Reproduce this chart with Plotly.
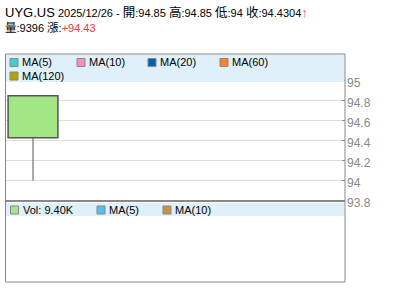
import plotly.graph_objects as go

# ---- data ----
symbol = "UYG.US"
date = "2025/12/26"
open_p = [94.85]
high_p = [94.85]
low_p = [94.0]
close_p = [94.4304]
volume = [9396]
change = 94.43
price_ticks = [93.8, 94.0, 94.2, 94.4, 94.6, 94.8, 95.0]
price_tick_labels = ["93.8", "94", "94.2", "94.4", "94.6", "94.8", "95"]
ma_labels = ["MA(5)", "MA(10)", "MA(20)", "MA(60)", "MA(120)"]
ma_colors = ["#3fcfcf", "#f78fbf", "#0063b1", "#f7832a", "#b0a400"]
vol_ma_labels = ["MA(5)", "MA(10)"]
vol_ma_colors = ["#4fc0ef", "#c8904f"]

W, H = 400, 301
L, R, T, B = 5, 55, 54, 19
PW, PH = W - L - R, H - T - B


def px(xp):
    return (xp - L) / PW


def py(yp):
    return (H - B - yp) / PH


split = py(201)

fig = go.Figure()
xs = list(range(len(open_p)))
# wicks
for i in xs:
    top = max(open_p[i], close_p[i])
    bot = min(open_p[i], close_p[i])
    if high_p[i] > top:
        fig.add_trace(go.Scatter(x=[i, i], y=[top, high_p[i]], mode="lines",
                                 line=dict(color="#555555", width=1),
                                 showlegend=False, hoverinfo="skip"))
    if low_p[i] < bot:
        fig.add_trace(go.Scatter(x=[i, i], y=[low_p[i], bot], mode="lines",
                                 line=dict(color="#555555", width=1),
                                 showlegend=False, hoverinfo="skip"))
# bodies
fig.add_trace(go.Bar(
    x=xs,
    y=[abs(o - c) for o, c in zip(open_p, close_p)],
    base=[min(o, c) for o, c in zip(open_p, close_p)],
    width=0.89,
    marker=dict(color="#a3e686", line=dict(color="#555555", width=1.5)),
    showlegend=False, hoverinfo="skip"))

slot_px = 56
fig.update_layout(
    width=W, height=H,
    margin=dict(l=L, r=R, t=T, b=B, pad=0),
    paper_bgcolor="white", plot_bgcolor="white",
    showlegend=False,
    xaxis=dict(range=[-0.5, -0.5 + PW / slot_px], showgrid=False, zeroline=False,
               showticklabels=False, ticks="", domain=[0, 1], anchor="y"),
    yaxis=dict(domain=[split, 1], range=[93.797, 95.267], side="right",
               tickvals=price_ticks, ticktext=price_tick_labels,
               showgrid=True, gridcolor="#dddddd", gridwidth=1,
               ticks="inside", ticklen=3, tickcolor="#888888",
               tickfont=dict(family="Liberation Sans, Arial", size=12, color="#888888"),
               ticklabelshift=2, ticklabelstandoff=1,
               zeroline=False, showline=False, anchor="x"),
    xaxis2=dict(range=[-0.5, -0.5 + PW / slot_px], showgrid=False, zeroline=False,
                showticklabels=False, ticks="", domain=[0, 1], anchor="y2"),
    yaxis2=dict(domain=[0, split], range=[0, 1], showgrid=False, zeroline=False,
                showticklabels=False, ticks="", anchor="x2"),
)

shapes = []
# legend bands
shapes.append(dict(type="rect", xref="paper", yref="paper", x0=px(6), x1=px(344.5),
                   y0=py(82), y1=py(54.5), fillcolor="#dff0fa", line=dict(width=0), layer="above"))
shapes.append(dict(type="rect", xref="paper", yref="paper", x0=px(6), x1=px(344.5),
                   y0=py(216), y1=py(203), fillcolor="#dff0fa", line=dict(width=0), layer="above"))
# borders
shapes.append(dict(type="rect", xref="paper", yref="paper", x0=px(5.5), x1=px(345),
                   y0=py(282), y1=py(54), line=dict(color="#888888", width=1), layer="above"))
shapes.append(dict(type="line", xref="paper", yref="paper", x0=px(5.5), x1=px(345),
                   y0=py(201), y1=py(201), line=dict(color="#888888", width=2), layer="above"))

annotations = []
font = "Liberation Sans, Arial, Noto Sans CJK TC"


def legend_item(x, y, color, text):
    shapes.append(dict(type="rect", xref="paper", yref="paper", x0=px(x), x1=px(x + 8),
                       y0=py(y + 4), y1=py(y - 4), fillcolor=color,
                       line=dict(color="#888888", width=1), layer="above"))
    annotations.append(dict(x=px(x + 10), y=py(y), xref="paper", yref="paper",
                            text=text, showarrow=False, xanchor="left", yanchor="middle",
                            font=dict(family=font, size=11, color="#000000")))


row1_x = [10, 77, 148, 220]
for i in range(4):
    legend_item(row1_x[i], 62.5, ma_colors[i], ma_labels[i])
legend_item(10, 76, ma_colors[4], ma_labels[4])

legend_item(10.5, 210, "#a3e686", "Vol: %.2fK" % (volume[-1] / 1000))
legend_item(97, 210, vol_ma_colors[0], vol_ma_labels[0])
legend_item(163, 210, vol_ma_colors[1], vol_ma_labels[1])


def fmt(v):
    s = ("%.4f" % v).rstrip("0").rstrip(".")
    return s


def cjk(t, size=12.5):
    return '<span style="font-size:%spx">%s</span>' % (size, t)


line1 = ('<span style="font-size:13px">%s</span> %s - %s:%s %s:%s %s:%s %s:%s'
         '<span style="color:#ff3333;font-size:13px"><b>↑</b></span>') % (
    symbol, date, cjk("開"), fmt(open_p[-1]), cjk("高"), fmt(high_p[-1]),
    cjk("低"), fmt(low_p[-1]), cjk("收"), fmt(close_p[-1]))
line2 = '%s:%d %s:<span style="color:#ff3333">+%s</span>' % (
    cjk("量", 11.5), volume[-1], cjk("漲", 11.5), fmt(change))
annotations.append(dict(x=px(4), y=py(12.5), xref="paper", yref="paper", text=line1,
                        showarrow=False, xanchor="left", yanchor="middle", borderpad=0,
                        font=dict(family=font, size=11, color="#000000")))
annotations.append(dict(x=px(4), y=py(28), xref="paper", yref="paper", text=line2,
                        showarrow=False, xanchor="left", yanchor="middle", borderpad=0,
                        font=dict(family=font, size=11, color="#000000")))

fig.update_layout(shapes=shapes, annotations=annotations)
fig.write_html("out.html")
